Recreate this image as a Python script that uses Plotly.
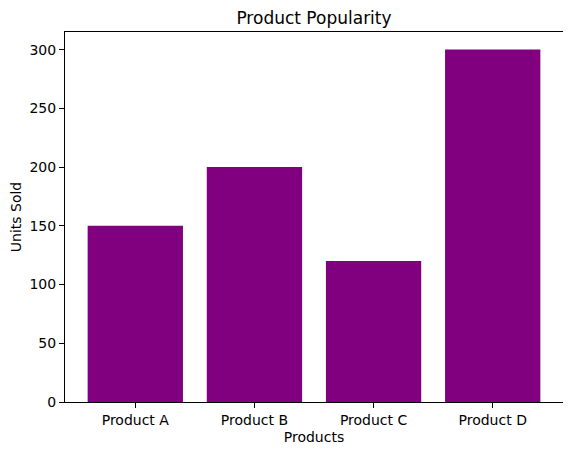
import plotly.graph_objects as go

# === Data ===
products = ["Product A", "Product B", "Product C", "Product D"]
units_sold = [150, 200, 120, 300]
y_ticks = [0, 50, 100, 150, 200, 250, 300]

fig = go.Figure()
fig.add_trace(go.Bar(
    x=list(range(len(products))),
    y=units_sold,
    width=0.8,
    marker=dict(color="purple", line=dict(width=0)),
))

axis_style = dict(
    showline=True, linecolor="black", linewidth=1, mirror=True,
    ticks="outside", ticklen=5, tickcolor="black", showgrid=False,
    zeroline=False, tickfont=dict(size=14, color="black"), automargin=False,
)

# the page puts the figure 8px in from the top-left, margins allow for that
fig.update_layout(
    width=571, height=455,
    margin=dict(l=57, r=16, t=24, b=61),
    paper_bgcolor="white", plot_bgcolor="white",
    font=dict(family="DejaVu Sans", size=14, color="black"),
    title=dict(text="Product Popularity", xref="paper", x=0.5, xanchor="center",
               y=1 - 10 / 455, yanchor="middle", font=dict(size=17)),
    showlegend=False,
    xaxis=dict(axis_style, range=[-0.59, 3.59],
               tickvals=list(range(len(products))), ticktext=products,
               title=dict(text="Products", standoff=5, font=dict(size=14))),
    yaxis=dict(axis_style, range=[0, 315], tickvals=y_ticks,
               title=dict(text="Units Sold", standoff=7, font=dict(size=14))),
)

fig.write_html("out.html")
